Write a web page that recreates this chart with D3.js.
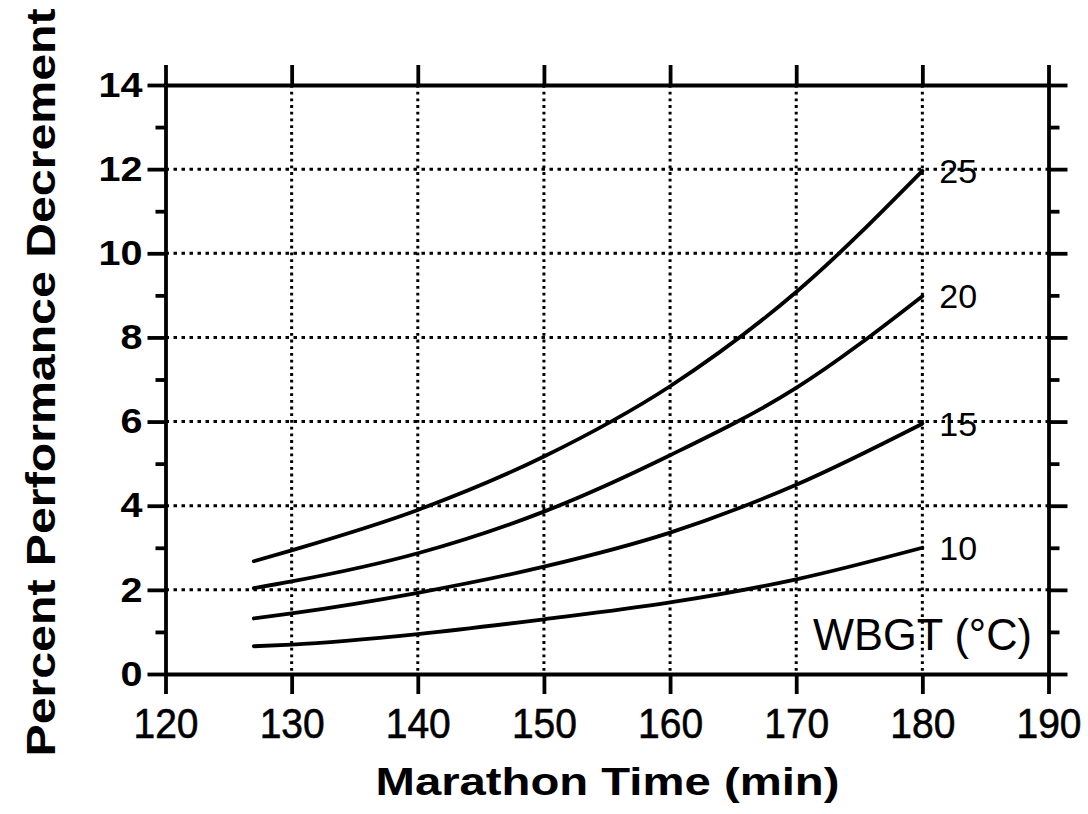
<!DOCTYPE html>
<html>
<head>
<meta charset="utf-8">
<script src="https://cdn.jsdelivr.net/npm/d3@7"></script>
<style>
  html, body { margin: 0; padding: 0; background: #fff; }
  svg { display: block; }
  text { font-family: "Liberation Sans", Arial, Helvetica, sans-serif; fill: #000; }
</style>
</head>
<body>
<svg id="chart" width="1088" height="814"></svg>
<script>
// Marathon time (min) at which each curve is sampled
const marathonTimes = [127, 130, 140, 150, 160, 170, 180];

// Percent performance decrement per WBGT level (°C)
const wbgt25 = [2.68, 2.94, 3.90, 5.17, 6.84, 9.08, 11.96];
const wbgt20 = [2.04, 2.20, 2.87, 3.86, 5.20, 6.80, 8.98];
const wbgt15 = [1.32, 1.44, 1.93, 2.55, 3.36, 4.50, 5.95];
const wbgt10 = [0.66, 0.70, 0.95, 1.30, 1.70, 2.25, 3.00];

const seriesLabels = ["25", "20", "15", "10"];
const seriesValues = [wbgt25, wbgt20, wbgt15, wbgt10];

const xTicks = [120, 130, 140, 150, 160, 170, 180, 190];
const yTicks = [0, 2, 4, 6, 8, 10, 12, 14];
const yMinorTicks = [1, 3, 5, 7, 9, 11, 13];
const xGrid = [130, 140, 150, 160, 170, 180];
const yGrid = [2, 4, 6, 8, 10, 12];

const svg = d3.select("#chart");
const plotLeft = 165.5, plotRight = 1048.5, plotTop = 85, plotBottom = 674;

const x = d3.scaleLinear().domain([120, 190]).range([plotLeft, plotRight]);
const y = d3.scaleLinear().domain([0, 14]).range([plotBottom, plotTop]);

// dotted grid
const grid = svg.append("g").attr("stroke", "#000").attr("stroke-width", 3).attr("fill", "none");
grid.selectAll("line.v").data(xGrid).join("line")
  .attr("class", "v")
  .attr("x1", d => x(d)).attr("x2", d => x(d))
  .attr("y1", plotTop).attr("y2", plotBottom)
  .attr("stroke-dasharray", "2.8,3.9");
grid.selectAll("line.h").data(yGrid).join("line")
  .attr("class", "h")
  .attr("x1", plotLeft).attr("x2", plotRight)
  .attr("y1", d => y(d)).attr("y2", d => y(d))
  .attr("stroke-dasharray", "3.5,4.5");

// curves
const line = d3.line()
  .x((d, i) => x(marathonTimes[i]))
  .y(d => y(d))
  .curve(d3.curveMonotoneX);

svg.append("g").selectAll("path").data(seriesValues).join("path")
  .attr("d", line)
  .attr("fill", "none")
  .attr("stroke", "#000")
  .attr("stroke-width", 3.8)
  .attr("stroke-linecap", "round");

// curve labels at the end of each curve
svg.append("g").selectAll("text").data(seriesValues).join("text")
  .attr("x", x(marathonTimes[marathonTimes.length - 1]) + 17)
  .attr("y", d => y(d[d.length - 1]))
  .attr("dy", "0.35em")
  .attr("font-size", 34)
  .text((d, i) => seriesLabels[i]);

svg.append("text")
  .attr("x", 813)
  .attr("y", 650)
  .attr("font-size", 44)
  .attr("textLength", 219)
  .attr("lengthAdjust", "spacingAndGlyphs")
  .text("WBGT (°C)");

// axes
function styleAxis(g) {
  g.selectAll("path.domain").attr("stroke", "#000").attr("stroke-width", 3.8);
  g.selectAll(".tick line").attr("stroke", "#000").attr("stroke-width", 3.8);
}

const gBottom = svg.append("g").attr("transform", `translate(0,${plotBottom})`)
  .call(d3.axisBottom(x).tickValues(xTicks).tickSize(20).tickSizeOuter(0).tickPadding(14))
  .call(styleAxis);
gBottom.selectAll(".tick text")
  .attr("font-size", 42)
  .attr("font-family", null)
  .attr("stroke", "#000")
  .attr("stroke-width", 0.6)
  .attr("textLength", 65)
  .attr("lengthAdjust", "spacingAndGlyphs");

svg.append("g").attr("transform", `translate(0,${plotTop})`)
  .call(d3.axisTop(x).tickValues(xTicks).tickSize(20).tickSizeOuter(0).tickFormat(""))
  .call(styleAxis);

const gLeft = svg.append("g").attr("transform", `translate(${plotLeft},0)`)
  .call(d3.axisLeft(y).tickValues(yTicks).tickSize(18).tickSizeOuter(0).tickPadding(5))
  .call(styleAxis);
gLeft.selectAll(".tick text")
  .attr("font-size", 35)
  .attr("font-weight", "bold")
  .attr("font-family", null)
  .attr("textLength", d => String(d).length * 22)
  .attr("lengthAdjust", "spacingAndGlyphs");

svg.append("g").attr("transform", `translate(${plotLeft},0)`)
  .call(d3.axisLeft(y).tickValues(yMinorTicks).tickSize(10).tickFormat(""))
  .call(g => g.select(".domain").remove())
  .call(styleAxis);

svg.append("g").attr("transform", `translate(${plotRight},0)`)
  .call(d3.axisRight(y).tickValues(yTicks).tickSize(19).tickSizeOuter(0).tickFormat(""))
  .call(styleAxis);

svg.append("g").attr("transform", `translate(${plotRight},0)`)
  .call(d3.axisRight(y).tickValues(yMinorTicks).tickSize(11).tickFormat(""))
  .call(g => g.select(".domain").remove())
  .call(styleAxis);

// axis titles
svg.append("text")
  .attr("x", (375 + 840) / 2)
  .attr("y", 795)
  .attr("text-anchor", "middle")
  .attr("font-size", 38)
  .attr("font-weight", "bold")
  .attr("textLength", 464)
  .attr("lengthAdjust", "spacingAndGlyphs")
  .text("Marathon Time (min)");

svg.append("text")
  .attr("transform", `translate(55,${(8 + 757) / 2}) rotate(-90)`)
  .attr("text-anchor", "middle")
  .attr("font-size", 40)
  .attr("font-weight", "bold")
  .attr("textLength", 748)
  .attr("lengthAdjust", "spacingAndGlyphs")
  .text("Percent Performance Decrement");
</script>
</body>
</html>
